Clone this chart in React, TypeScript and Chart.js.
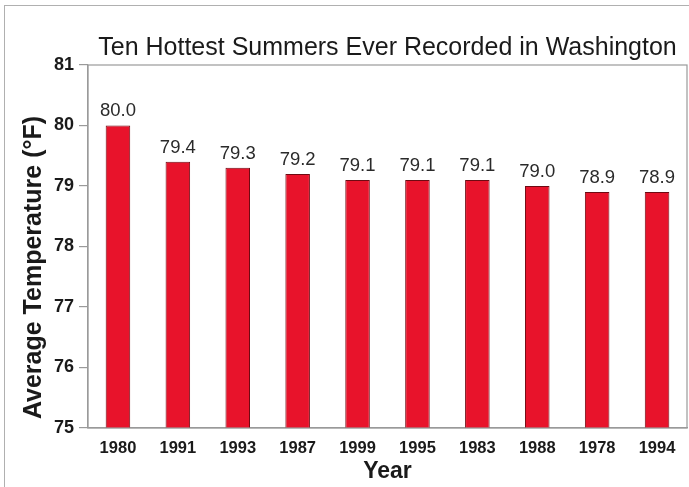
import React, { useEffect, useRef } from "react";
import { Chart, registerables } from "chart.js";

Chart.register(...registerables);

const years = ["1980", "1991", "1993", "1987", "1999", "1995", "1983", "1988", "1978", "1994"];
const temps = [80.0, 79.4, 79.3, 79.2, 79.1, 79.1, 79.1, 79.0, 78.9, 78.9];
const yMin = 75;
const yMax = 81;
const titleText = "Ten Hottest Summers Ever Recorded in Washington";
const xTitle = "Year";
const yTitle = "Average Temperature (\u00B0F)";

const FONT = "'Liberation Sans', Arial, Helvetica, sans-serif";

const frame = {
  id: "frame",
  afterDraw(chart: any) {
    const { ctx, chartArea } = chart;
    ctx.save();
    ctx.strokeStyle = "#9a9a9a";
    ctx.lineWidth = 1.2;
    ctx.strokeRect(chartArea.left, chartArea.top, chartArea.right - chartArea.left, chartArea.bottom - chartArea.top);
    ctx.restore();
  },
};

const yAxisTitle = {
  id: "yAxisTitle",
  afterDraw(chart: any) {
    const { ctx, chartArea } = chart;
    ctx.save();
    ctx.font = `bold 25px ${FONT}`;
    ctx.fillStyle = "#1a1a1a";
    ctx.textAlign = "center";
    ctx.textBaseline = "middle";
    ctx.translate(34, (chartArea.top + chartArea.bottom) / 2 + 21);
    ctx.rotate(-Math.PI / 2);
    ctx.fillText(yTitle, 0, 0);
    ctx.restore();
  },
};

const valueLabels = {
  id: "valueLabels",
  afterDatasetsDraw(chart: any) {
    const { ctx } = chart;
    const meta = chart.getDatasetMeta(0);
    ctx.save();
    ctx.font = `18.5px ${FONT}`;
    ctx.fillStyle = "#2a2a2a";
    ctx.textAlign = "center";
    ctx.textBaseline = "bottom";
    meta.data.forEach((bar: any, i: number) => {
      const v = chart.data.datasets[0].data[i] as number;
      ctx.fillText(v.toFixed(1), bar.x, bar.y - 5);
    });
    ctx.restore();
  },
};

export default function App() {
  const ref = useRef<HTMLCanvasElement>(null);
  useEffect(() => {
    if (!ref.current) return;
    const chart = new Chart(ref.current, {
      type: "bar",
      data: {
        labels: years,
        datasets: [
          {
            data: temps,
            backgroundColor: "#e8132b",
            borderColor: "#6e0a12",
            borderWidth: 1,
            barPercentage: 0.82,
            categoryPercentage: 0.5,
          },
        ],
      },
      options: {
        animation: false,
        responsive: false,
        maintainAspectRatio: false,
        layout: { padding: { left: 0, right: 2, top: 0, bottom: 0 } },
        plugins: {
          legend: { display: false },
          tooltip: { enabled: false },
          title: {
            display: true,
            text: titleText,
            fullSize: false,
            color: "#1a1a1a",
            font: { family: FONT, size: 25, weight: "normal" },
            padding: { top: 33, bottom: 2 },
          },
        },
        scales: {
          x: {
            grid: { display: false, drawTicks: false },
            border: { display: true, color: "#9a9a9a", width: 1.2 },
            ticks: { color: "#1a1a1a", font: { family: FONT, size: 16.5, weight: "bold" }, padding: 11, maxRotation: 0 },
            title: { display: true, text: xTitle, color: "#1a1a1a", font: { family: FONT, size: 23, weight: "bold" }, padding: { top: 0, bottom: 2 } },
            afterFit(scale: any) {
              scale.height = 59;
            },
          },
          y: {
            min: yMin,
            max: yMax,
            ticks: { stepSize: 1, color: "#1a1a1a", font: { family: FONT, size: 18, weight: "bold" }, padding: 5 },
            grid: { display: true, drawOnChartArea: false, drawTicks: true, tickLength: 9, color: "#9a9a9a", lineWidth: 1.2 },
            border: { display: true, color: "#9a9a9a", width: 1.2 },
            title: { display: false },
            afterFit(scale: any) {
              scale.width = 88;
            },
          },
        },
      },
      plugins: [frame, valueLabels, yAxisTitle],
    });
    return () => chart.destroy();
  }, []);
  return (
    <div style={{ position: "fixed", left: 0, top: 0, width: 689, height: 487, background: "#fff" }}>
      <div style={{ position: "absolute", left: 4, top: 5, width: 685, height: 482, borderLeft: "1.5px solid #b0b0b0", borderTop: "1.5px solid #b0b0b0" }} />
      <canvas ref={ref} width={689} height={487} style={{ position: "absolute", left: 0, top: 0 }} />
    </div>
  );
}
